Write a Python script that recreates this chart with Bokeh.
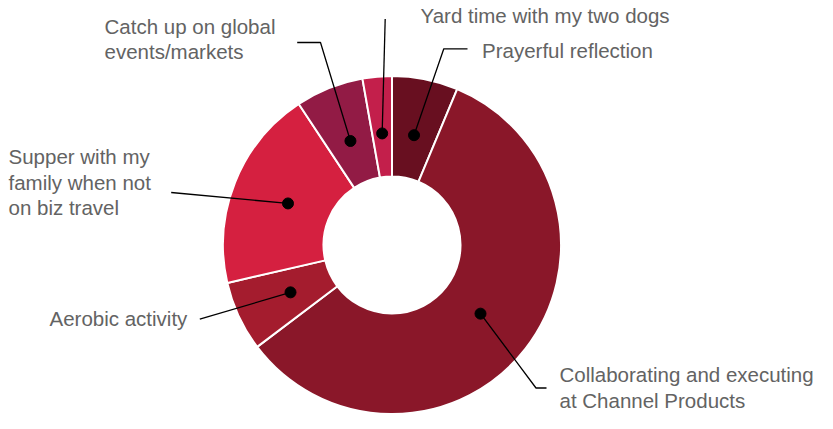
import math
from bokeh.plotting import figure
from bokeh.models import Range1d
from bokeh.core.properties import value
from bokeh.embed import file_html
from bokeh.resources import INLINE

# ---- data (clockwise from 12 o'clock) ----
categories = [
    "Prayerful reflection",
    "Collaborating and executing at Channel Products",
    "Aerobic activity",
    "Supper with my family when not on biz travel",
    "Catch up on global events/markets",
    "Yard time with my two dogs",
]
shares = [6.3, 58.4, 6.7, 19.3, 6.5, 2.8]
label_lines = [
    ["Prayerful reflection"],
    ["Collaborating and executing", "at Channel Products"],
    ["Aerobic activity"],
    ["Supper with my", "family when not", "on biz travel"],
    ["Catch up on global", "events/markets"],
    ["Yard time with my two dogs"],
]
colors = ["#680f20", "#8a1729", "#a41c2e", "#d52040", "#921b45", "#c31f4b"]

# ---- layout (screen pixel space, y downward) ----
PAGE_H = 429
TOP = 4
TEXT_DY = -8   # compensation for text baseline placement
CX, CY = 391.5, 248.5
R_OUT, R_IN, R_DOT = 169, 68.5, 112

def Y(py):
    return PAGE_H - py

leader_pts = [
    [(443.3, 52.3), (467, 52.3)],
    [(535.5, 391.5), (546, 391.5)],
    [(199.3, 322.7)],
    [(170.7, 196)],
    [(320, 46), (296.7, 46)],
    [(384.7, 22.5)],
]
text_anchor = [
    (481.5, 62.3),
    (559, 386),
    (49, 330),
    (8, 168.3),
    (104, 37.7),
    (420, 26.7),
]
LINE_H = 25.5

p = figure(width=817, height=413, output_backend="svg", toolbar_location=None,
           x_range=Range1d(0, 817), y_range=Range1d(Y(413 + TOP), Y(TOP)),
           min_border=0)
p.axis.visible = False
p.grid.visible = False
p.outline_line_color = None
p.background_fill_color = "white"
p.border_fill_color = "white"

total = sum(shares)
starts, ends, mids = [], [], []
acc = 0.0
for s in shares:
    a0 = acc / total
    acc += s
    a1 = acc / total
    starts.append(math.pi / 2 - a0 * 2 * math.pi)
    ends.append(math.pi / 2 - a1 * 2 * math.pi)
    mids.append(math.pi / 2 - (a0 + a1) / 2 * 2 * math.pi)

p.annular_wedge(x=CX, y=Y(CY), inner_radius=R_IN, outer_radius=R_OUT,
                start_angle=starts, end_angle=ends, direction="clock",
                fill_color=colors, line_color="white", line_width=2)

dot_x = [CX + R_DOT * math.cos(m) for m in mids]
dot_y = [Y(CY) + R_DOT * math.sin(m) for m in mids]

xs, ys = [], []
for i in range(len(shares)):
    lx = [dot_x[i]] + [pt[0] for pt in leader_pts[i]]
    ly = [dot_y[i]] + [Y(pt[1]) for pt in leader_pts[i]]
    xs.append(lx)
    ys.append(ly)
p.multi_line(xs=xs, ys=ys, line_color="black", line_width=1.3)
p.scatter(x=dot_x, y=dot_y, size=11, fill_color="black", line_color="black")

tx, ty, tt = [], [], []
for i, lines in enumerate(label_lines):
    x0, y0 = text_anchor[i]
    for j, line in enumerate(lines):
        tx.append(x0)
        ty.append(Y(y0 + j * LINE_H + TEXT_DY))
        tt.append(line)
p.text(x=tx, y=ty, text=tt, text_align="left", text_baseline="alphabetic",
       text_font=value("Liberation Sans"), text_font_size="20.5px",
       text_color="#636363")

open("out.html", "w").write(file_html(p, INLINE))
